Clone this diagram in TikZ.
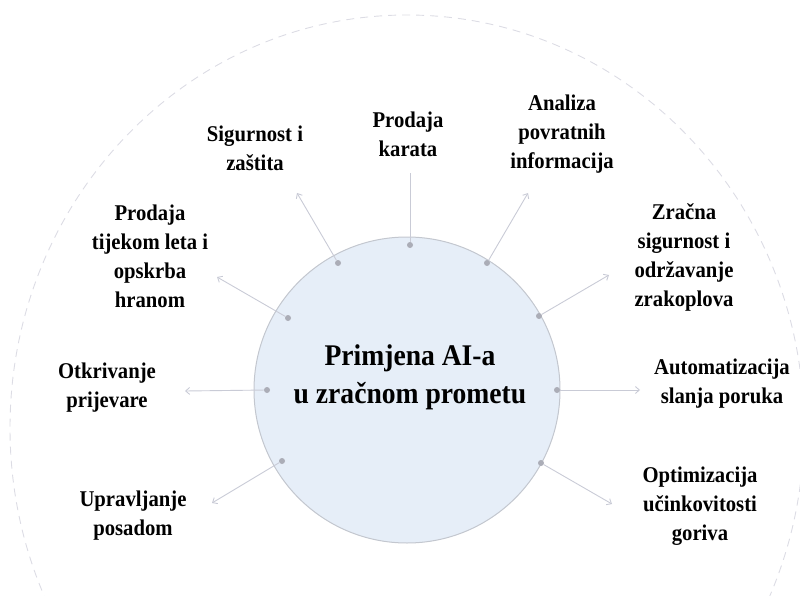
\documentclass[tikz,border=0pt]{standalone}
\usepackage{fontspec}
\setmainfont{Liberation Serif}
\newfontfamily\lblfont[FakeStretch=0.92]{Liberation Serif}
\usetikzlibrary{arrows.meta}
\definecolor{circfill}{HTML}{E6EEF8}
\definecolor{circline}{HTML}{C3C7CF}
\definecolor{spokec}{HTML}{C9CBD6}
\definecolor{dotc}{HTML}{ABADB7}
\definecolor{dashc}{HTML}{DCDCE4}
\begin{document}
\begin{tikzpicture}[x=1pt,y=-1pt,
  hubstyle/.style={circle, draw=circline, line width=1pt, fill=circfill, minimum size=306pt, inner sep=0pt},
  titlestyle/.style={align=center, font=\lblfont\bfseries\fontsize{30}{38}\selectfont, inner sep=0pt},
  labelstyle/.style={align=center, font=\lblfont\bfseries\fontsize{22.5}{29}\selectfont, inner sep=0pt},
  dotstyle/.style={circle, fill=dotc, minimum size=6pt, inner sep=0pt},
  spokeline/.style={draw=spokec, line width=0.9pt},
  spokearrow/.style={spokeline, -{Straight Barb[length=4pt,width=7pt]}},
]
\useasboundingbox (0,0) rectangle (800,596);
\clip (0,0) rectangle (800,596);
\draw[dashc, line width=0.9pt, dash pattern=on 8pt off 6pt] (407,428) ellipse [x radius=397, y radius=413];

\node[hubstyle] (hub) at (407,390) {};
\node[titlestyle] (title) at (410,377) {Primjena AI-a\\u zračnom prometu};

% dots on the hub
\node[dotstyle] (d1) at (410,245) {};
\node[dotstyle] (d2) at (338,263) {};
\node[dotstyle] (d3) at (487,263) {};
\node[dotstyle] (d4) at (288,318) {};
\node[dotstyle] (d5) at (539,316) {};
\node[dotstyle] (d6) at (267,390) {};
\node[dotstyle] (d7) at (557,390) {};
\node[dotstyle] (d8) at (282,461) {};
\node[dotstyle] (d9) at (541,463) {};

% arrow ends
\coordinate (t1) at (410,173);
\coordinate (t2) at (297,193);
\coordinate (t3) at (528,193);
\coordinate (t4) at (217,277);
\coordinate (t5) at (609,275);
\coordinate (t6) at (185,391);
\coordinate (t7) at (640,390);
\coordinate (t8) at (212,503);
\coordinate (t9) at (612,504);

\draw[spokeline] (d1) -- (t1);
\draw[spokearrow] (d2) -- (t2);
\draw[spokearrow] (d3) -- (t3);
\draw[spokearrow] (d4) -- (t4);
\draw[spokearrow] (d5) -- (t5);
\draw[spokearrow] (d6) -- (t6);
\draw[spokearrow] (d7) -- (t7);
\draw[spokearrow] (d8) -- (t8);
\draw[spokearrow] (d9) -- (t9);

% labels
\node[labelstyle] (l1) at (408,134) {Prodaja\\karata};
\node[labelstyle] (l2) at (255,148) {Sigurnost i\\zaštita};
\node[labelstyle] (l3) at (562,134) {Analiza\\povratnih\\informacija};
\node[labelstyle] (l4) at (150,256) {Prodaja\\tijekom leta i\\opskrba\\hranom};
\node[labelstyle] (l5) at (684,257) {Zračna\\sigurnost i\\održavanje\\zrakoplova};
\node[labelstyle] (l6) at (107,388) {Otkrivanje\\prijevare};
\node[labelstyle] (l7) at (722,384) {Automatizacija\\slanja poruka};
\node[labelstyle] (l8) at (133,516) {Upravljanje\\posadom};
\node[labelstyle] (l9) at (700,506) {Optimizacija\\učinkovitosti\\goriva};
\end{tikzpicture}
\end{document}
